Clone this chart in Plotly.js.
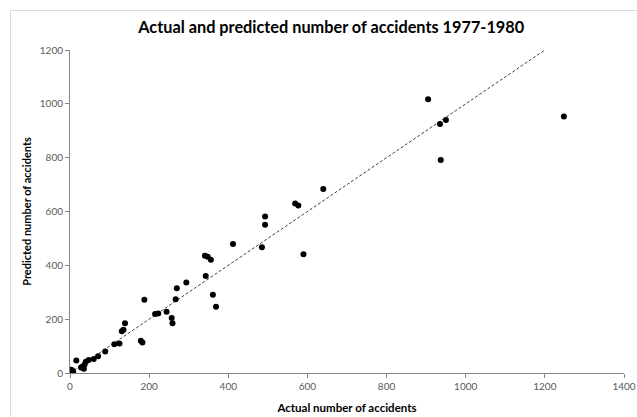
<!DOCTYPE html>
<html>
<head>
<meta charset="utf-8">
<script src="https://cdn.plot.ly/plotly-3.0.1.min.js"></script>
<style>
  html, body { margin: 0; padding: 0; background: #fff; }
  #wrap { position: relative; width: 637px; height: 417px; overflow: hidden; }
  #chart { width: 637px; height: 417px; }
  #frame { position: absolute; left: 10px; top: 10px; width: 700px; height: 500px;
           border-left: 1px solid #d9d9d9; border-top: 1px solid #d9d9d9; pointer-events: none; }
</style>
</head>
<body>
<div id="wrap">
  <div id="chart"></div>
  <div id="frame"></div>
</div>
<script>
// Actual vs predicted number of accidents, 1977-1980
const actual = [1248, 905, 935, 950, 937, 640, 569, 577, 590, 493, 493, 485, 412,
  341, 348, 356, 343, 361, 369, 294, 270, 267, 188, 244, 223, 215, 257, 259,
  139, 135, 131, 179, 183, 112, 125, 89, 71, 60, 47, 40, 37, 32, 16, 28, 35,
  5, 3, 8, 2];
const predicted = [953, 1017, 925, 940, 791, 684, 630, 622, 441, 581, 551, 467, 479,
  436, 432, 421, 360, 291, 246, 336, 315, 274, 272, 228, 221, 219, 204, 185,
  185, 161, 155, 120, 113, 107, 110, 80, 62, 52, 48, 42, 32, 24, 46, 20, 16,
  10, 3, 6, 12];
const lineX = [0, 1200];
const lineY = [0, 1200];
const xTicks = [0, 200, 400, 600, 800, 1000, 1200, 1400];
const yTicks = [0, 200, 400, 600, 800, 1000, 1200];

const FONT = 'Lato, "Open Sans", "Liberation Sans", sans-serif';

const traces = [
  {
    x: lineX, y: lineY, type: 'scatter', mode: 'lines',
    line: { color: '#404040', width: 1, dash: '3px,2px' },
    hoverinfo: 'skip', showlegend: false
  },
  {
    x: actual, y: predicted, type: 'scatter', mode: 'markers',
    marker: { color: '#000000', size: 6 },
    showlegend: false
  }
];

const axisCommon = {
  showgrid: false, zeroline: false,
  showline: true, linecolor: '#868686', linewidth: 1,
  ticks: 'outside', ticklen: 4, tickcolor: '#868686', tickwidth: 1,
  tickfont: { family: FONT, size: 10, color: '#595959' },
  tickmode: 'array', fixedrange: true
};

const layout = {
  width: 637, height: 417,
  margin: { l: 70, r: 13, t: 50, b: 44 },
  paper_bgcolor: '#ffffff', plot_bgcolor: '#ffffff',
  title: {
    text: '<b>Actual and predicted number of accidents 1977-1980</b>',
    font: { family: FONT, size: 16.3, color: '#000000' },
    x: 0.52, xanchor: 'center', y: 0.935, yanchor: 'middle', yref: 'container'
  },
  xaxis: Object.assign({}, axisCommon, {
    range: [0, 1400], tickvals: xTicks, ticktext: xTicks.map(String),
    title: { text: '<b>Actual number of accidents</b>', font: { family: FONT, size: 11.5, color: '#000000' }, standoff: 12 }
  }),
  yaxis: Object.assign({}, axisCommon, {
    range: [0, 1200], tickvals: yTicks, ticktext: yTicks.map(String),
    title: { text: '<b>Predicted number of accidents</b>', font: { family: FONT, size: 11, color: '#000000' }, standoff: 5 }
  }),
  showlegend: false
};

Plotly.newPlot('chart', traces, layout, { displayModeBar: false, staticPlot: true });
</script>
</body>
</html>
